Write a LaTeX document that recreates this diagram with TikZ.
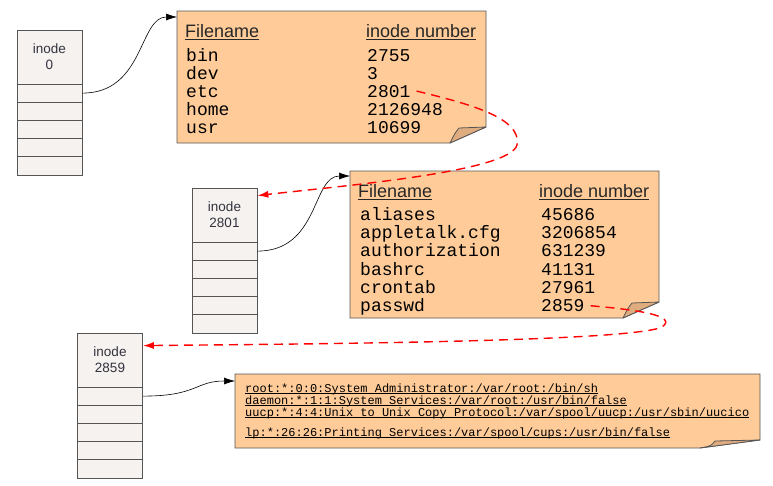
\documentclass[tikz,border=0pt]{standalone}
\usepackage{fontspec}
\setmainfont{Liberation Sans}
\setmonofont{Liberation Mono}
\usetikzlibrary{
  arrows.meta
}
\definecolor{notefill}{RGB}{255,204,153}
\definecolor{notefold}{RGB}{222,172,126}
\definecolor{inodefill}{RGB}{245,242,240}
\definecolor{edgegray}{RGB}{85,85,85}
\definecolor{labelgray}{RGB}{50,50,62}
\newcommand\baseul[2][2.2pt]{\setbox0\hbox{#2}\rlap{\rule[-#1]{\wd0}{0.6pt}}\box0}
\tikzset{
  inode head/.style={
    draw=edgegray, fill=inodefill, line width=0.8pt,
    minimum width=65pt, minimum height=54pt, inner sep=0pt,
    align=center, text=labelgray,
    font=\fontsize{13.5}{16}\selectfont
  },
  inode cell/.style={
    draw=edgegray, fill=inodefill, line width=0.8pt,
    minimum width=65pt, minimum height=18.2pt, inner sep=0pt
  },
  note/.style={fill=notefill, draw=edgegray, line width=0.8pt},
  fold/.style={fill=notefold, draw=edgegray, line width=0.8pt, line join=round},
  col head/.style={anchor=base west, inner sep=0pt, text=black!85,
    font=\fontsize{18}{18}\selectfont},
  entry/.style={anchor=base west, inner sep=0pt,
    font=\ttfamily\fontsize{18}{18}\selectfont},
  passwd line/.style={anchor=base west, inner sep=0pt,
    font=\ttfamily\fontsize{12}{12}\selectfont},
  pointer/.style={-{Latex[length=11pt,width=7pt]}, black, line width=0.6pt},
  lookup/.style={-{Latex[length=11pt,width=7pt]}, red, line width=1.4pt,
    dash pattern=on 9pt off 6pt}
}
\begin{document}
\begin{tikzpicture}[x=1pt,y=-1pt]
\useasboundingbox (0,0) rectangle (773,485);
% inodes
\foreach \ino/\x/\y/\num in {ino0/49.5/30/0, ino2801/224.5/188/2801, ino2859/110/333/2859}{
  \node[inode head] (\ino) at (\x,\y+27) {inode\\\num};
  \foreach \c in {1,...,5}
    \node[inode cell] (\ino-\c) at (\x,{\y+54+18.2*\c-9.1}) {};
}
% directory and file contents
\foreach \nm/\l/\t/\r/\b/\fw/\fh/\ix in {dir0/177/11/486/143/36/16/27,
    dir2801/350/171/659/318/36/16/27, pwfile/235/374/760/448/60/8/45}{
  \coordinate (\nm-nw) at (\l,\t);
  \path[note] (\l,\t) -- (\r,\t) -- (\r,\b-\fh) -- (\r-\fw,\b) -- (\l,\b) -- cycle;
  \path[fold] (\r,\b-\fh) -- (\r-\ix,\b-\fh+1)
    .. controls (\r-\ix-4,\b-\fh+6) .. (\r-\fw,\b) -- cycle;
}
\node[col head] (dir0-hname) at (185,37) {\baseul{Filename}};
\node[col head] (dir0-hnum) at (366,37) {\baseul{inode number}};
\foreach \name/\num [count=\i] in {bin/2755, dev/3, etc/2801, home/2126948, usr/10699}{
  \node[entry] (dir0-name\i) at (186,43+18*\i) {\name};
  \node[entry] (dir0-num\i) at (367,43+18*\i) {\num};
}
\node[col head] (dir2801-hname) at (358,197) {\baseul{Filename}};
\node[col head] (dir2801-hnum) at (539,197) {\baseul{inode number}};
\foreach \name/\num [count=\i] in {aliases/45686, appletalk.cfg/3206854,
    authorization/631239, bashrc/41131, crontab/27961, passwd/2859}{
  \node[entry] (dir2801-name\i) at (360,201.7+18.33*\i) {\name};
  \node[entry] (dir2801-num\i) at (541,201.7+18.33*\i) {\num};
}
\node[passwd line] (pw1) at (245,392) {\baseul[1.6pt]{root:*:0:0:System Administrator:/var/root:/bin/sh}};
\node[passwd line] (pw2) at (245,404) {\baseul[1.6pt]{daemon:*:1:1:System Services:/var/root:/usr/bin/false}};
\node[passwd line] (pw3) at (245,416) {\baseul[1.6pt]{uucp:*:4:4:Unix to Unix Copy Protocol:/var/spool/uucp:/usr/sbin/uucico}};
\node[passwd line] (pw4) at (245,436) {\baseul[1.6pt]{lp:*:26:26:Printing Services:/var/spool/cups:/usr/bin/false}};
% block pointers
\draw[pointer] (ino0-1.east) .. controls +(62,0) and +(-38,0) .. ([yshift=-6pt]dir0-nw);
\draw[pointer] (ino2801-1.east) .. controls +(62,0) and +(-38,0) .. ([yshift=-5pt]dir2801-nw);
\draw[pointer] (ino2859-1.east) .. controls +(55,0) and +(-40,0) .. ([yshift=-7pt]pwfile-nw);
% name lookups
\draw[lookup] ([xshift=6pt]dir0-num3.east) .. controls (470,104) and (522,118) .. (517,145)
  .. controls (510,172) and (340,186) .. ([yshift=-8pt]ino2801.north east);
\draw[lookup] ([xshift=6pt]dir2801-num6.east) .. controls (640,310) and (678,316) .. (662,327)
  .. controls (630,342) and (300,344) .. ([yshift=-13pt]ino2859.north east);
\end{tikzpicture}
\end{document}
